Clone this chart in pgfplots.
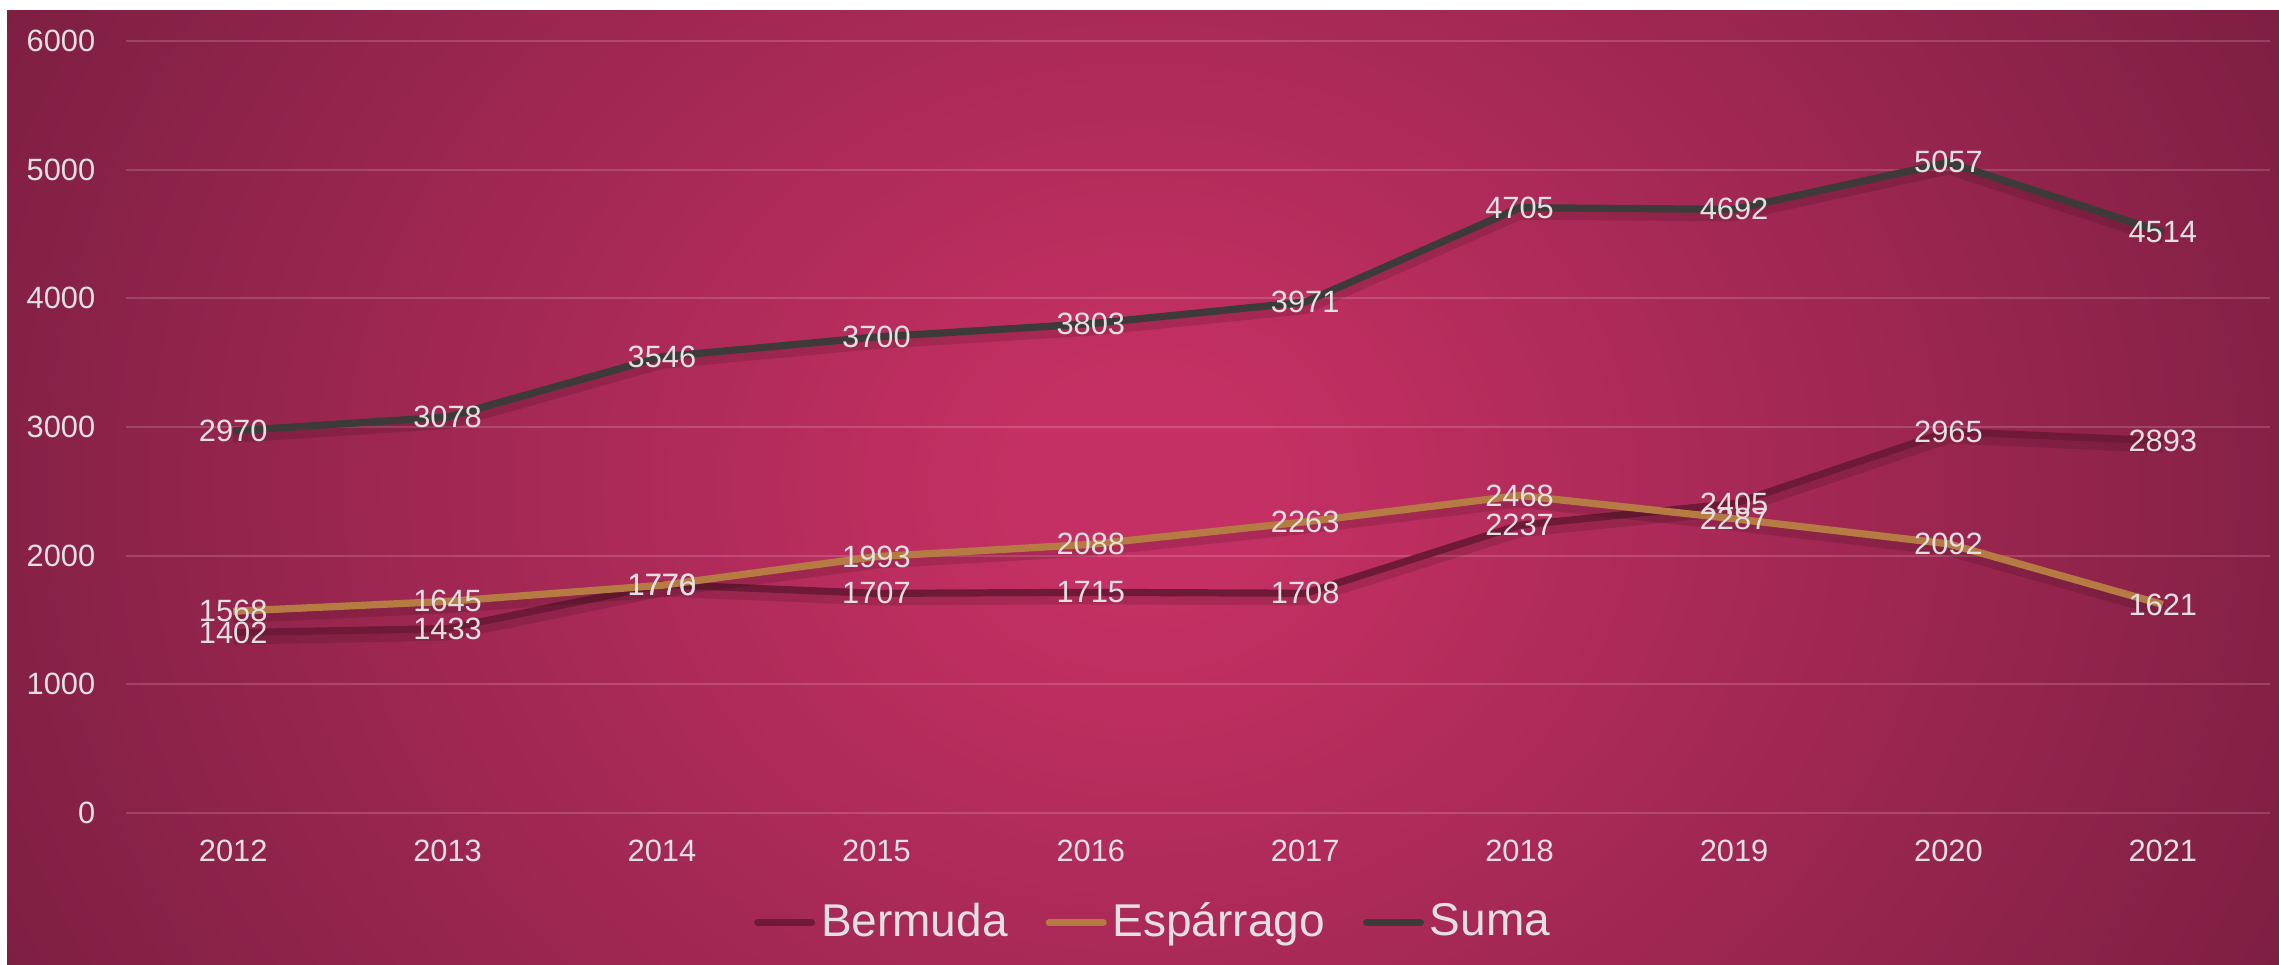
\documentclass[border=0pt]{standalone}
\usepackage{fontspec}
\setmainfont{Liberation Sans}
\usepackage{pgfplots}
\usepackage{pgfplotstable}
\pgfplotsset{compat=1.18}
\pgfkeys{/pgf/number format/.cd, 1000 sep={}, assume math mode=true}

\definecolor{bgin}{HTML}{C43063}
\definecolor{bgout}{HTML}{7E1F42}
\definecolor{bermuda}{HTML}{6E1A36}
\definecolor{esparrago}{HTML}{B57B42}
\definecolor{suma}{HTML}{3C3B3A}
\definecolor{txt}{HTML}{E4E0E2}

\pgfdeclareradialshading{bgshade}{\pgfpoint{0bp}{0bp}}{color(0bp)=(bgin); color(2.5bp)=(bgin); color(25bp)=(bgout); color(50bp)=(bgout)}

% year index, Bermuda, Esparrago, Suma
\pgfplotstableread{
x bermuda esparrago suma
0 1402 1568 2970
1 1433 1645 3078
2 1776 1770 3546
3 1707 1993 3700
4 1715 2088 3803
5 1708 2263 3971
6 2237 2468 4705
7 2405 2287 4692
8 2965 2092 5057
9 2893 1621 4514
}\datatable

\begin{document}
\begin{tikzpicture}
\useasboundingbox (0,0) rectangle (569.75pt,-241pt);
% background panel with radial glow
\begin{scope}
  \clip (1.75pt,-2.5pt) rectangle (569.75pt,-241pt);
  \shade[shading=bgshade] (-29.85pt,149.25pt) rectangle (601.35pt,-392.75pt);
\end{scope}

\begin{axis}[
    scale only axis,
    width=536pt, height=193pt,
    at={(31.5pt,-203.25pt)}, anchor=south west,
    xmin=-0.5, xmax=9.5,
    ymin=0, ymax=6000,
    xtick={0,...,9},
    xticklabels={2012,2013,2014,2015,2016,2017,2018,2019,2020,2021},
    ytick={0,1000,...,6000},
    axis line style={draw=none},
    major tick length=0pt,
    ymajorgrids,
    grid style={white, opacity=0.16, line width=0.5pt},
    tick label style={font=\fontsize{7.7}{9}\selectfont, text=txt, inner sep=0pt},
    yticklabel style={xshift=-7.5pt},
    xticklabel style={yshift=-6.6pt},
    legend style={at={(0.48,-0.142)}, anchor=center, draw=none, fill=none,
        legend columns=3, font=\fontsize{11.5}{13}\selectfont, text=txt,
        nodes={inner xsep=1.5pt, inner ysep=1pt},
        /tikz/every even column/.append style={column sep=8pt}},
    legend image code/.code={\draw[#1, line width=1.75pt, line cap=round, opacity=1] (0pt,0pt) -- (13.5pt,0pt);},
    every node near coord/.append style={anchor=center, font=\fontsize{7.7}{9}\selectfont, text=txt, inner sep=0pt},
    shadow/.style={forget plot, black, opacity=0.13, line width=3.4pt, yshift=-1.3pt},
]
% Bermuda
\addplot[shadow] table[x=x,y=bermuda]{\datatable};
\addplot[bermuda, line width=1.8pt] table[x=x,y=bermuda]{\datatable};
\addlegendentry{Bermuda}
% Esparrago
\addplot[shadow] table[x=x,y=esparrago]{\datatable};
\addplot[esparrago, line width=1.8pt] table[x=x,y=esparrago]{\datatable};
\addlegendentry{Espárrago}
% Suma
\addplot[shadow] table[x=x,y=suma]{\datatable};
\addplot[suma, line width=1.8pt] table[x=x,y=suma]{\datatable};
\addlegendentry{Suma}

% value labels on top of all lines
\addplot[draw=none, forget plot, nodes near coords] table[x=x,y=bermuda]{\datatable};
\addplot[draw=none, forget plot, nodes near coords] table[x=x,y=esparrago]{\datatable};
\addplot[draw=none, forget plot, nodes near coords] table[x=x,y=suma]{\datatable};
\end{axis}
\end{tikzpicture}
\end{document}
